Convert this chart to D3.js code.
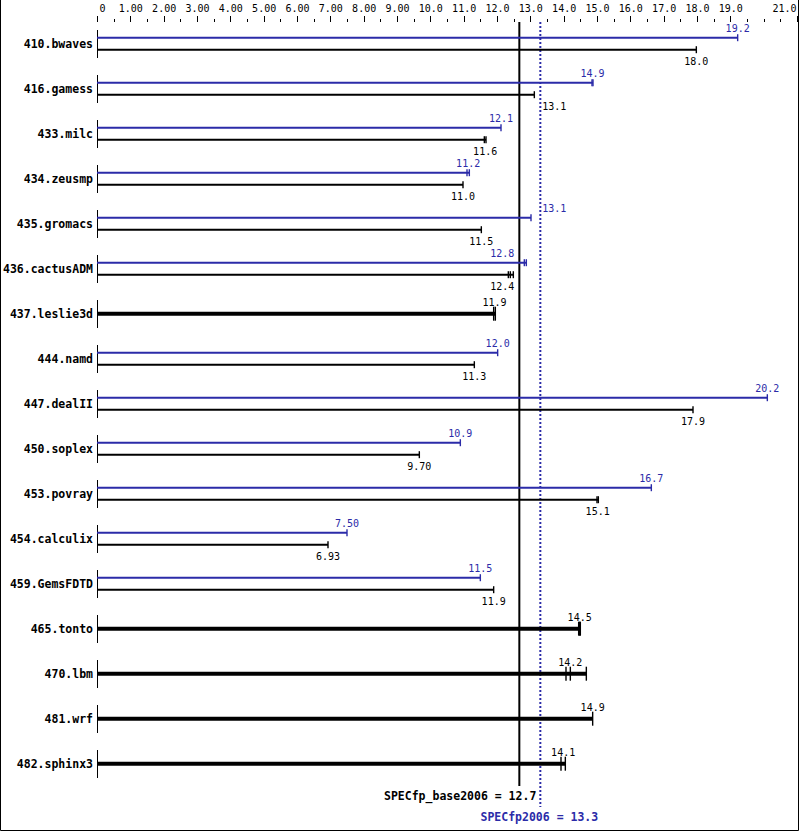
<!DOCTYPE html>
<html>
<head>
<meta charset="utf-8">
<script src="https://cdn.jsdelivr.net/npm/d3@7"></script>
<style>
  html, body { margin: 0; padding: 0; background: #fff; }
  svg { display: block; }
</style>
</head>
<body>
<svg id="chart" width="799" height="831"></svg>
<script>
// ---------------- data ----------------
const benchmarks = ["410.bwaves","416.gamess","433.milc","434.zeusmp","435.gromacs","436.cactusADM",
  "437.leslie3d","444.namd","447.dealII","450.soplex","453.povray","454.calculix","459.GemsFDTD",
  "465.tonto","470.lbm","481.wrf","482.sphinx3"];
// peak (blue) label values and individual runs; null = no peak result shown
const peakLabels = ["19.2","14.9","12.1","11.2","13.1","12.8",null,"12.0","20.2","10.9","16.7","7.50","11.5",null,null,null,null];
const peakRuns = [[19.22],[14.85,14.88],[12.12],[11.1,11.17],[13.02],[12.82,12.88],null,[12.02],[20.11],[10.9],[16.63],[7.5],[11.5],null,null,null,null];
// base (black) label values and individual runs
const baseLabels = ["18.0","13.1","11.6","11.0","11.5","12.4","11.9","11.3","17.9","9.70","15.1","6.93","11.9","14.5","14.2","14.9","14.1"];
const baseRuns = [[17.98],[13.12],[11.62,11.67],[10.98],[11.53],[12.34,12.4,12.49],[11.9,11.95],[11.32],[17.88],[9.67],[15.0,15.04],[6.93],[11.9],[14.45,14.48,14.5],[14.07,14.2,14.68],[14.87],[13.92,14.05]];
const tickValues = [0,1,2,3,4,5,6,7,8,9,10,11,12,13,14,15,16,17,18,19,21];
const tickLabels = ["0","1.00","2.00","3.00","4.00","5.00","6.00","7.00","8.00","9.00","10.0","11.0","12.0","13.0","14.0","15.0","16.0","17.0","18.0","19.0","21.0"];
const minorTicks = [0.5,1.5,2.5,3.5,4.5,5.5,6.5,7.5,8.5,9.5,10.5,11.5,12.5,13.5,14.5,15.5,16.5,17.5,18.5,19.5,20,20.5];
const baseScore = 12.7, peakScore = 13.3;
const baseScoreText = "SPECfp_base2006 = 12.7", peakScoreText = "SPECfp2006 = 13.3";

// ---------------- setup ----------------
const BLUE = "#2b2ba8", BLACK = "#000";
const MONO = "'DejaVu Sans Mono', 'Liberation Mono', monospace";
const svg = d3.select("#chart");
const x = d3.scaleLinear().domain([0, 21]).range([97, 797]);
const y = d3.scaleBand().domain(benchmarks).range([21.2, 786.2]);
const cy = b => y(b) + y.bandwidth() / 2;

// frame
svg.append("path").attr("d", "M0.5,0 V830.5 H798.5 V0").attr("fill", "none").attr("stroke", "#000").attr("stroke-width", 1);

// top axis
const axis = svg.append("g").attr("transform", "translate(0,22)")
  .call(d3.axisTop(x).tickValues(tickValues).tickSize(6).tickPadding(4.5)
    .tickFormat((d, i) => tickLabels[i]));
axis.select(".domain").remove();
axis.selectAll("text").attr("font-family", MONO).attr("font-size", "10px").attr("fill", "#000");
axis.selectAll(".tick line").attr("stroke", "#000").attr("shape-rendering", "crispEdges");
axis.selectAll(".tick text").filter(d => d === 0).attr("text-anchor", "start").attr("dx", 2);
axis.selectAll(".tick text").filter(d => d === 21).attr("text-anchor", "end").attr("dx", -1);
const minor = svg.append("g").attr("transform", "translate(0,22)")
  .call(d3.axisTop(x).tickValues(minorTicks).tickSize(3).tickFormat(""));
minor.select(".domain").remove();
minor.selectAll(".tick line").attr("stroke", "#000").attr("shape-rendering", "crispEdges");

// reference lines
svg.append("line").attr("x1", x(baseScore) - 1).attr("x2", x(baseScore) - 1).attr("y1", 22).attr("y2", 786)
  .attr("stroke", BLACK).attr("stroke-width", 2);
svg.append("line").attr("x1", x(peakScore)).attr("x2", x(peakScore)).attr("y1", 22).attr("y2", 807)
  .attr("stroke", BLUE).attr("stroke-width", 2).attr("stroke-dasharray", "2,2");

// label placement avoiding the reference lines
const refX = [x(baseScore) - 1, x(peakScore)];
function placeLabel(cx, w) {
  const collides = c => refX.some(r => c - w / 2 < r + 2 && c + w / 2 > r - 2);
  if (!collides(cx)) return cx;
  const cands = [];
  refX.forEach(r => { cands.push(r - 5 - w / 2); cands.push(r + 2 + w / 2); });
  const ok = cands.filter(c => !collides(c));
  ok.sort((a, b) => Math.abs(a - cx) - Math.abs(b - cx));
  return ok.length ? ok[0] : cx;
}
const CHW = 6.02;

const rows = svg.append("g");
benchmarks.forEach((b, i) => {
  const c = cy(b);
  const g = rows.append("g");
  // name
  g.append("text").attr("x", 93).attr("y", c + 4).attr("text-anchor", "end")
    .attr("font-family", MONO).attr("font-size", "11.5px").attr("font-weight", "bold").text(b);
  // left axis segment
  g.append("line").attr("x1", x(0)).attr("x2", x(0)).attr("y1", c - 14).attr("y2", c + 14)
    .attr("stroke", "#000").attr("stroke-width", 1).attr("shape-rendering", "crispEdges");

  const hasPeak = peakRuns[i] !== null;
  const series = hasPeak
    ? [{runs: peakRuns[i], label: peakLabels[i], color: BLUE, yy: c - 6, w: 2, cap: 3.5, ly: c - 11.5},
       {runs: baseRuns[i], label: baseLabels[i], color: BLACK, yy: c + 6, w: 2, cap: 3.5, ly: c + 21}]
    : [{runs: baseRuns[i], label: baseLabels[i], color: BLACK, yy: c, w: 4, cap: 7, ly: c - 8}];
  series.forEach(s => {
    const mx = d3.max(s.runs);
    g.append("line").attr("x1", x(0)).attr("x2", x(mx)).attr("y1", s.yy).attr("y2", s.yy)
      .attr("stroke", s.color).attr("stroke-width", s.w);
    s.runs.forEach(r => {
      g.append("line").attr("x1", x(r)).attr("x2", x(r)).attr("y1", s.yy - s.cap).attr("y2", s.yy + s.cap)
        .attr("stroke", s.color).attr("stroke-width", 1.4);
    });
    const lx = placeLabel(x(d3.median(s.runs)), s.label.length * CHW);
    g.append("text").attr("x", lx).attr("y", s.ly).attr("text-anchor", "middle")
      .attr("font-family", MONO).attr("font-size", "10px").attr("fill", s.color).text(s.label);
  });
});

// score labels
svg.append("text").attr("x", x(baseScore) + 16).attr("y", 800).attr("text-anchor", "end")
  .attr("font-family", MONO).attr("font-size", "11.5px").attr("font-weight", "bold").attr("fill", BLACK).text(baseScoreText);
svg.append("text").attr("x", x(peakScore) - 1).attr("y", 821).attr("text-anchor", "middle")
  .attr("font-family", MONO).attr("font-size", "11.5px").attr("font-weight", "bold").attr("fill", BLUE).text(peakScoreText);
</script>
</body>
</html>
